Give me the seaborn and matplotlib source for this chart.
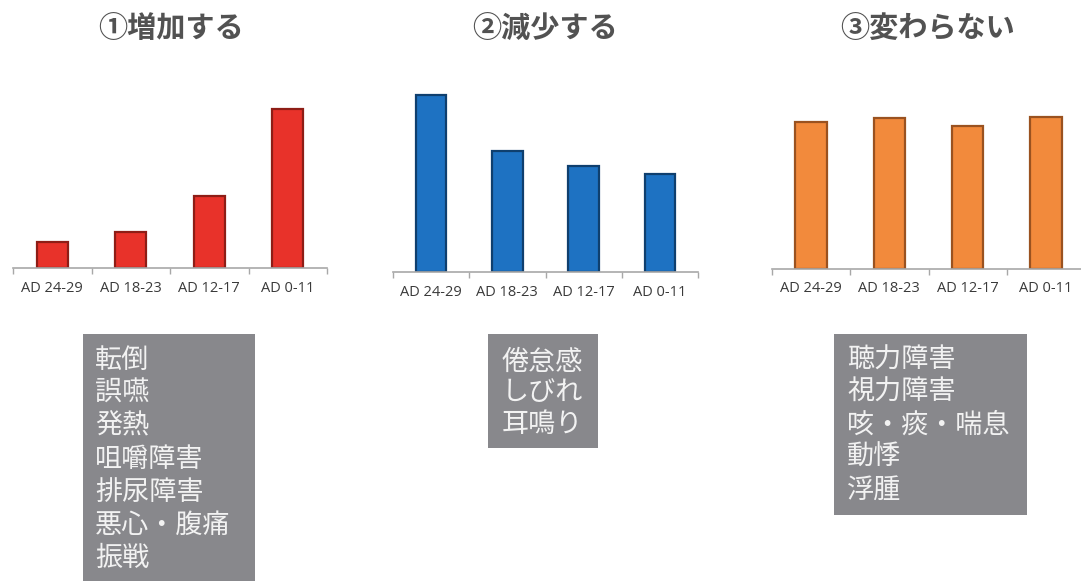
import matplotlib
matplotlib.use("Agg")
import matplotlib.pyplot as plt
import seaborn as sns
from matplotlib.patches import Rectangle

# data (bar heights in pixel-ish units)
periods = ["AD 24-29", "AD 18-23", "AD 12-17", "AD 0-11"]
increase = [26, 36, 72, 159]
decrease = [177, 121, 106, 98]
unchanged = [147, 151, 143, 152]

titles = ["①増加する", "②減少する", "③変わらない"]
symptoms_up = ["転倒", "誤嚥", "発熱", "咀嚼障害", "排尿障害", "悪心・腹痛", "振戦"]
symptoms_down = ["倦怠感", "しびれ", "耳鳴り"]
symptoms_flat = ["聴力障害", "視力障害", "咳・痰・喘息", "動悸", "浮腫"]

sns.set_theme(style="white")
plt.rcParams['font.family'] = ['Noto Sans CJK JP', 'DejaVu Sans']

W, H = 1081, 581
fig = plt.figure(figsize=(W / 100, H / 100), dpi=100)


def px_axes(left, base, width, height=200):
    # axes placed by pixel coords, base = y of the baseline from top
    return fig.add_axes([left / W, (H - base) / H, width / W, height / H])


panels = [
    (increase, "#e8322a", "#8e1d16", 13, 268, 314, 171),
    (decrease, "#1e72c2", "#0f3f6e", 393, 272, 305, 545),
    (unchanged, "#f28a3c", "#9a5220", 772, 269, 313, 928),
]

for i, (vals, face, edge, left, base, width, tx) in enumerate(panels):
    ax = px_axes(left, base, width)
    sns.barplot(x=periods, y=vals, ax=ax, color=face, width=0.4,
                edgecolor=edge, linewidth=1.6, saturation=1)
    ax.set_ylim(0, 200)
    ax.set_xlim(-0.5, 3.5)
    for s in ["top", "left", "right"]:
        ax.spines[s].set_visible(False)
    ax.spines["bottom"].set_color("#a8a8a8")
    ax.spines["bottom"].set_linewidth(1.2)
    ax.set_yticks([])
    ax.set_xlabel("")
    ax.set_ylabel("")
    ax.set_xticks([-0.5, 0.5, 1.5, 2.5, 3.5], minor=True)
    ax.tick_params(axis="x", which="minor", bottom=True, length=4,
                   width=1, color="#a8a8a8", direction="out")
    ax.tick_params(axis="x", which="major", bottom=False, length=0, pad=9)
    for lab in ax.get_xticklabels():
        lab.set_fontfamily(["Open Sans", "DejaVu Sans"])
        lab.set_fontsize(10.5)
        lab.set_color("#3a3a3a")
    ax.patch.set_alpha(0)

    fig.text(tx / W, 1 - 28 / H, titles[i], ha="center", va="center",
             fontsize=21, fontweight="bold", color="#525252")

# gray boxes with symptom lists
boxes = [
    (83, 334, 255, 581, 95, 360, 33, symptoms_up),
    (488, 334, 598, 448, 502, 362, 31, symptoms_down),
    (834, 334, 1027, 515, 847, 360, 32.5, symptoms_flat),
]
for x0, y0, x1, y1, tx, ty, step, lines in boxes:
    fig.patches.append(Rectangle((x0 / W, 1 - y1 / H), (x1 - x0) / W,
                                 (y1 - y0) / H, transform=fig.transFigure,
                                 facecolor="#88888c", edgecolor="none",
                                 zorder=0))
    for j, line in enumerate(lines):
        fig.text(tx / W, 1 - (ty + j * step) / H, line, ha="left",
                 va="center", fontsize=19.5, color="#f2f2f2")

fig.savefig("out.png", dpi=100)
